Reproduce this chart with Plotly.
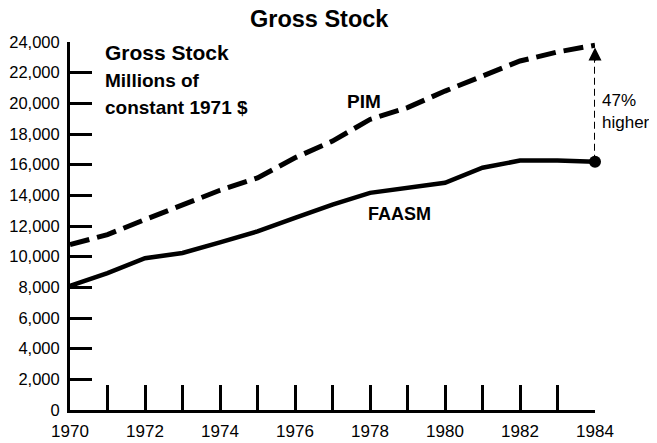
import plotly.graph_objects as go

years = list(range(1970, 1985))
faasm = [8100, 8930, 9900, 10240, 10930, 11650, 12530, 13400, 14160, 14490, 14820, 15800, 16270, 16270, 16190]
pim = [10780, 11440, 12420, 13400, 14330, 15140, 16450, 17540, 18950, 19720, 20800, 21780, 22760, 23350, 23790]
y_ticks = list(range(0, 24001, 2000))
x_tickvals = years
x_ticktext = [str(y) if y % 2 == 0 else "" for y in years]

FONT = "Liberation Sans, Arial, sans-serif"

fig = go.Figure()
fig.add_trace(go.Scatter(x=years, y=pim, mode="lines",
                         line=dict(color="black", width=5, dash="20px,8px"),
                         showlegend=False, hoverinfo="skip"))
fig.add_trace(go.Scatter(x=years, y=faasm, mode="lines",
                         line=dict(color="black", width=4.5),
                         showlegend=False, hoverinfo="skip"))
fig.add_trace(go.Scatter(x=[years[-1]], y=[faasm[-1]], mode="markers",
                         marker=dict(color="black", size=12),
                         showlegend=False, hoverinfo="skip", cliponaxis=False))
# dashed connector
fig.add_trace(go.Scatter(x=[years[-1], years[-1]], y=[faasm[-1], pim[-1] - 900], mode="lines",
                         line=dict(color="black", width=2, dash="7px,4px"),
                         showlegend=False, hoverinfo="skip", cliponaxis=False))
fig.add_annotation(x=years[-1], y=pim[-1] - 150, ax=years[-1], ay=pim[-1] - 1100,
                   xref="x", yref="y", axref="x", ayref="y", text="",
                   showarrow=True, arrowhead=2, arrowsize=1.3, arrowwidth=2, arrowcolor="black")
fig.add_annotation(x=years[-1], y=19500, xref="x", yref="y", xanchor="left", yanchor="middle",
                   xshift=5, text="47%<br>higher", align="left", showarrow=False,
                   font=dict(family=FONT, size=17, color="black"))
fig.add_annotation(x=1977.84, y=20150, xref="x", yref="y", text="<b>PIM</b>", showarrow=False,
                   font=dict(family=FONT, size=19, color="black"))
fig.add_annotation(x=1978.79, y=12785, xref="x", yref="y", text="<b>FAASM</b>", showarrow=False,
                   font=dict(family=FONT, size=18, color="black"))
fig.add_annotation(x=1970.88, y=23290, xref="x", yref="y", xanchor="left", text="<b>Gross Stock</b>",
                   showarrow=False, font=dict(family=FONT, size=21, color="black"))
fig.add_annotation(x=1970.88, y=21520, xref="x", yref="y", xanchor="left", text="<b>Millions of</b>",
                   showarrow=False, font=dict(family=FONT, size=19, color="black"))
fig.add_annotation(x=1970.88, y=19700, xref="x", yref="y", xanchor="left", text="<b>constant 1971 $</b>",
                   showarrow=False, font=dict(family=FONT, size=19, color="black"))
# chart title
fig.add_annotation(x=0.475, y=1, xref="paper", yref="paper", xanchor="center", yanchor="middle",
                   yshift=23, text="<b>Gross Stock</b>", showarrow=False,
                   font=dict(family=FONT, size=23.5, color="black"))

# page body has an 8px margin, so the figure is offset by (8, 8)
fig.update_layout(
    width=649, height=435,
    margin=dict(l=62, r=62, t=34, b=33, autoexpand=False),
    paper_bgcolor="white", plot_bgcolor="white",
    font=dict(family=FONT, color="black"),
)
fig.update_xaxes(range=[1970, 1984], tickvals=x_tickvals, ticktext=x_ticktext, automargin=False,
                 ticks="inside", ticklen=25, tickwidth=2.5, tickcolor="black",
                 showline=True, linewidth=3, linecolor="black", showgrid=False, zeroline=False,
                 tickfont=dict(family=FONT, size=17, color="black"), ticklabelstandoff=4)
fig.update_yaxes(range=[0, 24000], tickvals=y_ticks, tickformat=",", automargin=False,
                 ticks="inside", ticklen=22, tickwidth=2.5, tickcolor="black",
                 showline=True, linewidth=3, linecolor="black", showgrid=False, zeroline=False,
                 tickfont=dict(family=FONT, size=16.5, color="black"), ticklabelstandoff=4)

fig.write_html("out.html")
